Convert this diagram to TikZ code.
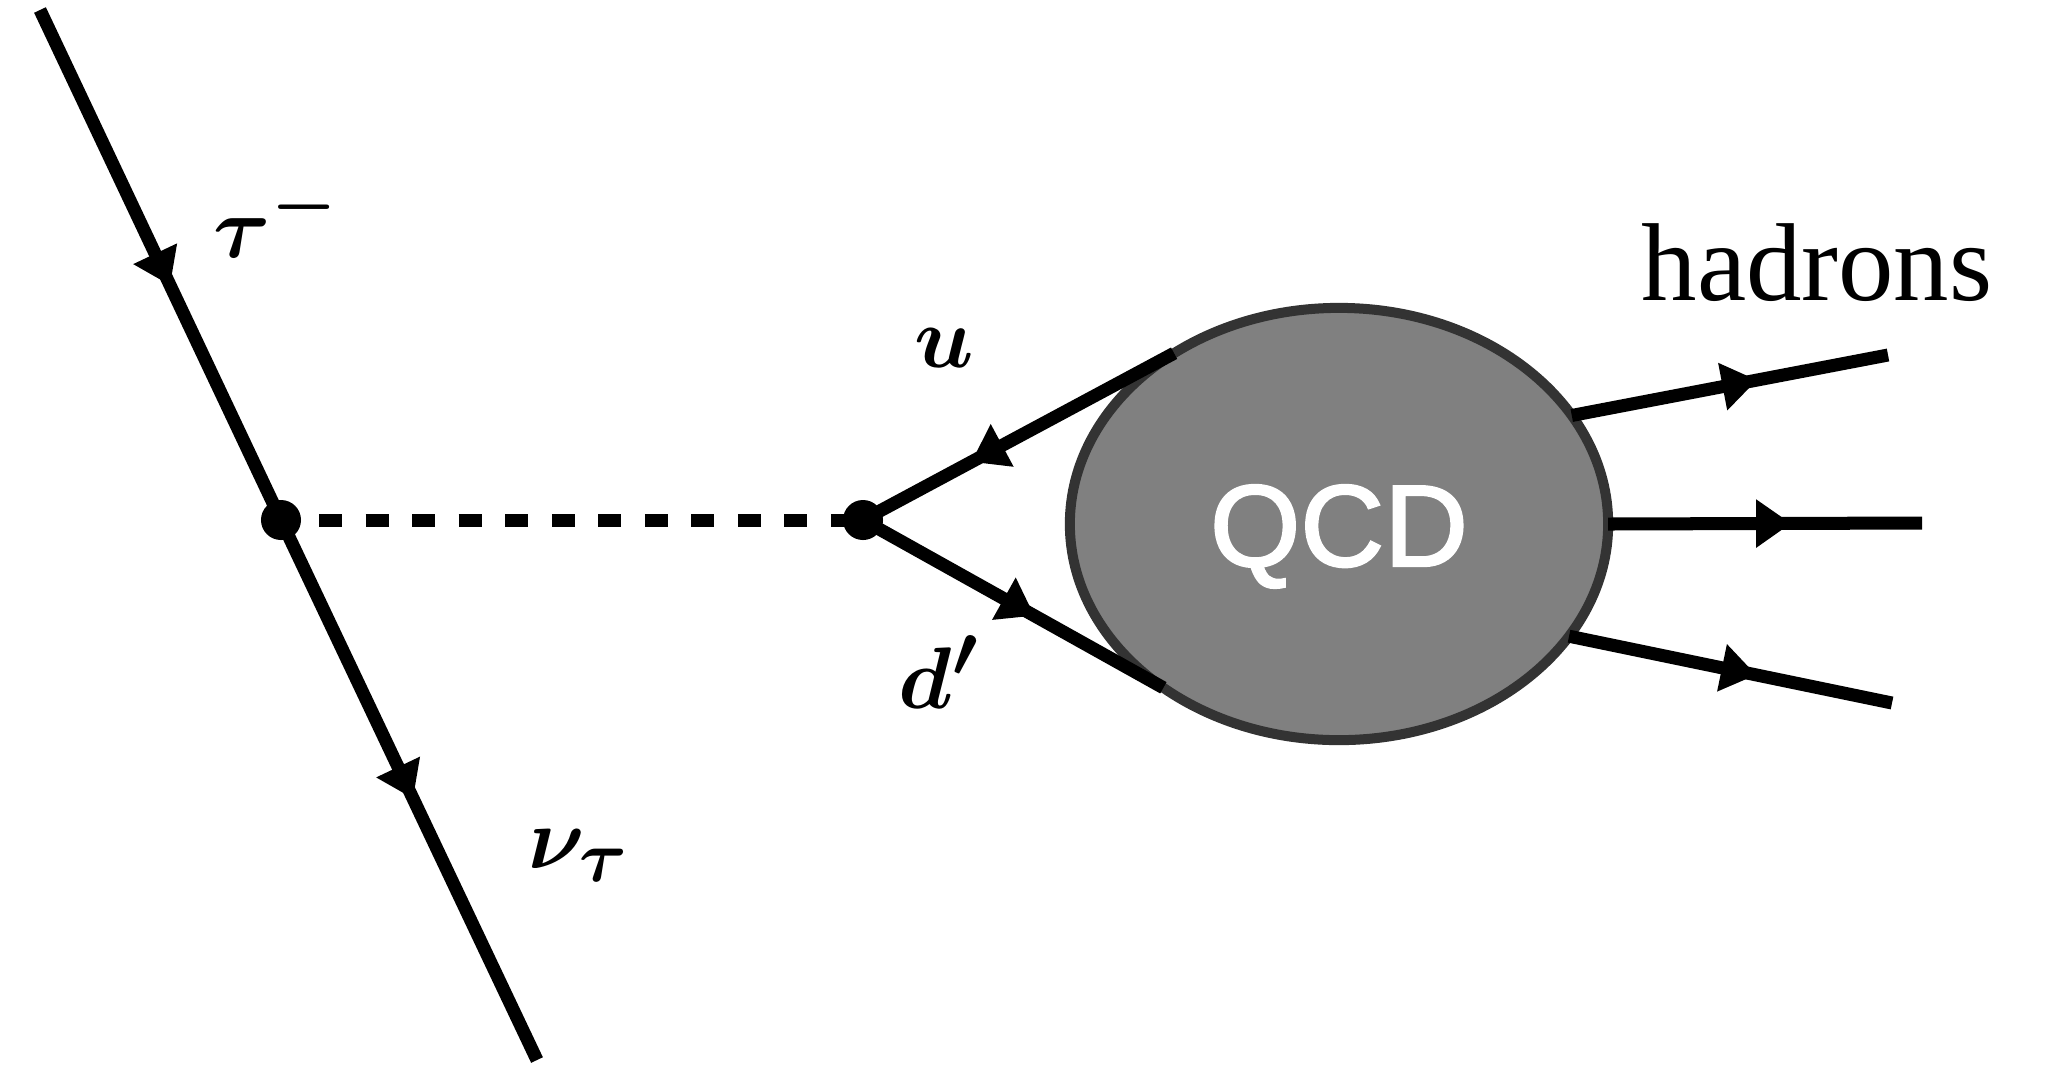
\documentclass[tikz,border=0pt]{standalone}
\usepackage{fontspec}
\usetikzlibrary{arrows.meta,decorations.markings,shapes.geometric}
\newfontfamily\hadfont{Liberation Serif}
\newfontfamily\qcdfont[FakeBold=2]{Liberation Sans}
\definecolor{qcdfill}{HTML}{808080}
\definecolor{qcdborder}{HTML}{333333}
\begin{document}
\begin{tikzpicture}[x=0.01cm,y=-0.01cm,
  fermion/.style={line width=0.13cm, line cap=butt},
  midarrow/.style={postaction={decorate}, decoration={markings,
     mark=at position #1 with {\arrow{Triangle[length=0.35cm,width=0.46cm]}}}},
  vtx/.style={circle, fill=black, minimum size=0.4cm, inner sep=0pt, outer sep=0pt},
  lbl/.style={font=\fontsize{31}{37}\selectfont\boldmath, inner sep=0pt, anchor=base west}]
\useasboundingbox (0,0) rectangle (2049,1066);
% blob
\node[ellipse, draw=qcdborder, fill=qcdfill, line width=0.1cm,
      minimum width=5.38cm, minimum height=4.32cm, inner sep=0pt, outer sep=0pt,
      text=white, font=\qcdfont\fontsize{33}{40}\selectfont] (qcd) at (1339,524) {\raisebox{-0.42cm}[0pt][0pt]{QCD}};
% points
\coordinate (v1) at (281,520);
\coordinate (v2) at (863,520);
\coordinate (tA) at (40,10);
\coordinate (tB) at (537,1060);
\coordinate (hT) at (1888,355);
\coordinate (hM) at (1922,523);
\coordinate (hB) at (1892,703);
% lepton line
\draw[fermion, midarrow=0.540] (tA) -- (v1.center);
\draw[fermion, midarrow=0.516] (v1.center) -- (tB);
% W propagator
\draw[line width=0.13cm, dash pattern=on 0.23cm off 0.235cm, dash phase=0.084cm] (v1.center) -- (v2.center);
% quarks
\draw[fermion, midarrow=0.652] (qcd.134.7) -- (v2.center);
\draw[fermion, midarrow=0.571] (v2.center) -- (qcd.223.6);
% hadrons
\draw[fermion, midarrow=0.586] (qcd.25.9) -- (hT);
\draw[fermion, midarrow=0.583] (qcd.0) -- (hM);
\draw[fermion, midarrow=0.580] (qcd.-26.4) -- (hB);
% vertices
\node[vtx] (dot1) at (v1) {};
\node[vtx] (dot2) at (v2) {};
% labels
\node[lbl] (ltau) at (213,257) {$\tau^-$};
\node[lbl] (lnu) at (528,868) {$\nu_\tau$};
\node[lbl] (lu) at (914,367) {$u$};
\node[lbl] (ld) at (898,708) {$d'$};
\node[font=\hadfont\fontsize{31.5}{38}\selectfont, inner sep=0pt, anchor=base] (lhad) at (1817,300) {hadrons};
\end{tikzpicture}
\end{document}
